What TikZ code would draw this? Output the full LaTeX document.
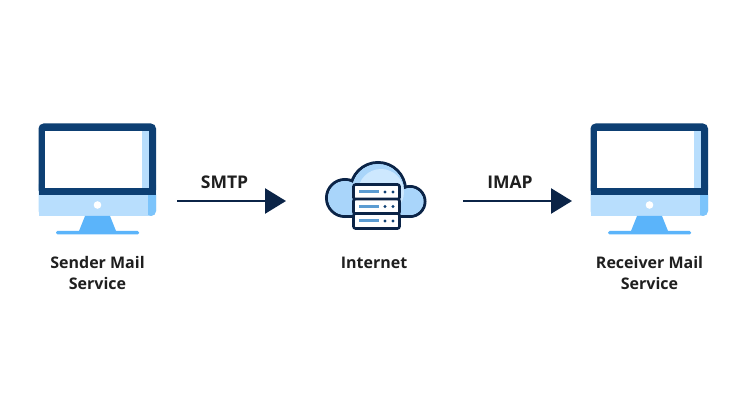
\documentclass[tikz,border=0pt]{standalone}
\usepackage{fontspec}
\setmainfont{Open Sans}
\usetikzlibrary{arrows.meta}
\definecolor{navy}{HTML}{0B2447}
\definecolor{frameblue}{HTML}{0D3F73}
\definecolor{paleblue}{HTML}{B8DEFD}
\definecolor{cloudblue}{HTML}{A9D5FA}
\definecolor{midblue}{HTML}{7CC4FB}
\definecolor{standblue}{HTML}{5BB4FA}
\tikzset{
    label text/.style={font=\bfseries\fontsize{16}{20.5}\selectfont,text=black!88,align=center,inner sep=0pt},
    proto text/.style={font=\bfseries\fontsize{17.5}{21}\selectfont,text=black!88,inner sep=0pt},
    link/.style={draw=navy,line width=2.6pt,-{Triangle[length=21pt,width=25pt]}},
    cloud lobe/.style={circle,fill=cloudblue,draw=navy,line width=3pt,inner sep=0pt,outer sep=0pt},
    cloud fill/.style={circle,fill=cloudblue,inner sep=0pt,outer sep=0pt},
    rack/.style={draw=navy,fill=white,line width=2.6pt,rounded corners=2pt},
}
\def\Monitor#1{
    \begin{scope}[xshift=#1]
    \fill[paleblue,rounded corners=5pt] (38.5,180) rectangle (156,216);
    \fill[midblue,rounded corners=5pt] (146,190) rectangle (156,216);
    \fill[paleblue] (38.5,195) rectangle (148,216);
    \fill[frameblue,rounded corners=5pt] (38.5,195) -- (38.5,123.5) -- (156,123.5) -- (156,195) -- cycle;
    \fill[frameblue] (38.5,188) rectangle (156,195);
    \fill[white] (45,131) rectangle (149,188);
    \fill[paleblue] (142,131) rectangle (149,188);
    \fill[white] (97.5,205) circle (3.8);
    \fill[standblue] (85,216) -- (110,216) -- (116,231) -- (79,231) -- cycle;
    \fill[standblue,rounded corners=1.5pt] (56,231) rectangle (139,234.5);
    \end{scope}
}
\def\ServerRow#1#2{
    \node[rack,minimum width=46pt,minimum height=15pt] (#1) at (376.5,#2) {};
    \fill[midblue!70!frameblue] (359,#2-1.5) rectangle (379,#2+1.5);
    \fill[frameblue] (385,#2) circle (1.6) (393,#2) circle (1.6);
}
\begin{document}
\begin{tikzpicture}[x=1pt,y=-1pt]
    \useasboundingbox (0,0) rectangle (746,419);
    \fill[white] (0,0) rectangle (746,419);
    \Monitor{0pt}
    \Monitor{552pt}
    % cloud
    \node[cloud lobe,minimum size=37pt] (lobeleft) at (345,198) {};
    \node[cloud lobe,minimum size=55pt] (lobetop) at (378,190) {};
    \node[cloud lobe,minimum size=30pt] (loberight) at (410,201.5) {};
    \draw[navy,line width=3pt] (345,217) -- (410,217);
    \node[cloud fill,minimum size=34pt] at (345,198) {};
    \node[cloud fill,minimum size=52pt] at (378,190) {};
    \node[cloud fill,minimum size=27pt] at (410,201.5) {};
    \fill[cloudblue] (345,195) rectangle (410,215.5);
    \fill[paleblue!70!white] (381,192) circle (23);
    \ServerRow{rackone}{192}
    \ServerRow{racktwo}{206.5}
    \ServerRow{rackthree}{221}
    % labels
    \node[label text] (sender) at (97.5,273) {Sender Mail\\Service};
    \node[label text] (internet) at (374,262.5) {Internet};
    \node[label text] (receiver) at (649.5,273) {Receiver Mail\\Service};
    \node[proto text] (smtp) at (224.5,182) {SMTP};
    \node[proto text] (imap) at (510,182) {IMAP};
    % arrows
    \coordinate (smtpfrom) at (177,201);
    \coordinate (smtpto) at (286,201);
    \coordinate (imapfrom) at (463,201);
    \coordinate (imapto) at (572,201);
    \draw[link] (smtpfrom) -- (smtpto);
    \draw[link] (imapfrom) -- (imapto);
\end{tikzpicture}
\end{document}
